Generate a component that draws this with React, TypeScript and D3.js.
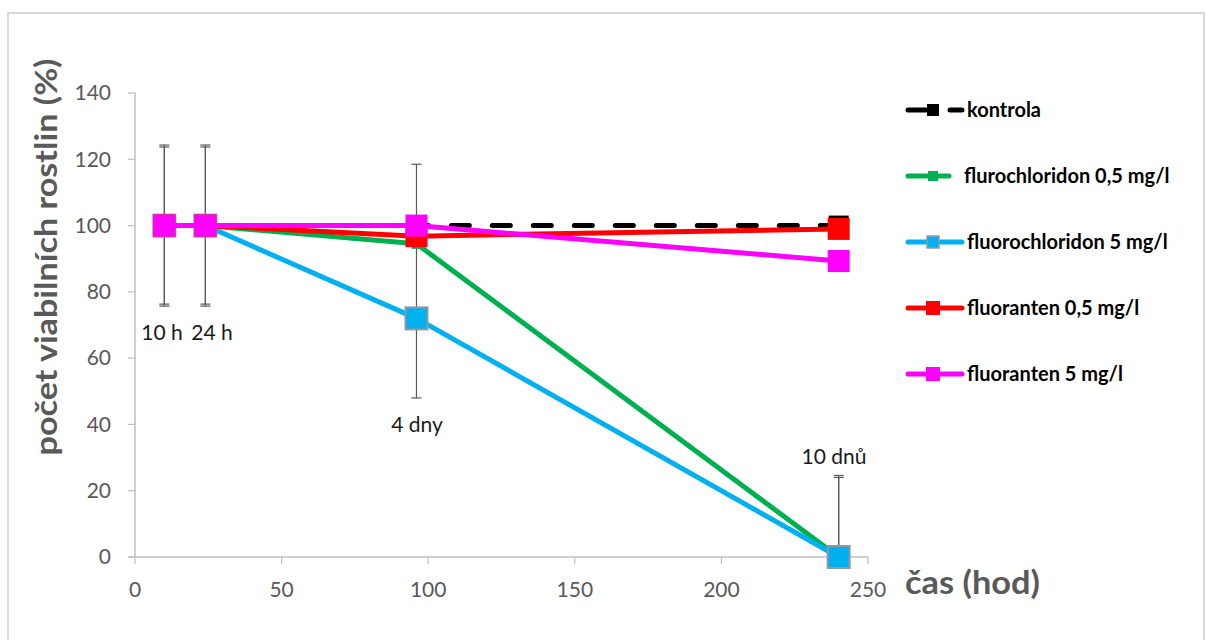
import React from "react";
import * as d3 from "d3";

const hours = [10, 24, 96, 240];
const timeLabels = ["10 h", "24 h", "4 dny", "10 dnů"];
const seriesNames = [
  "kontrola",
  "flurochloridon 0,5 mg/l",
  "fluorochloridon 5 mg/l",
  "fluoranten 0,5 mg/l",
  "fluoranten 5 mg/l",
];
const kontrola = [100, 100, 100, 100];
const flurochloridon05 = [100, 100, 94.5, 0];
const fluorochloridon5 = [100, 100, 72, 0];
const fluoranten05 = [100, 100, 96.8, 99];
const fluoranten5 = [100, 100, 100, 89.3];
// error bars: plus / minus
const errPlusKontrola = [0, 0, 0, 0];
const errMinusKontrola = [0, 0, 0, 0];
const errPlusFlurochloridon05 = [23.7, 23.7, 0, 24];
const errMinusFlurochloridon05 = [23.7, 23.7, 0, 24];
const errPlusFluorochloridon5 = [24.3, 24.3, 24, 24.6];
const errMinusFluorochloridon5 = [24.3, 24.3, 24, 24.6];
const errPlusFluoranten05 = [0, 0, 0, 0];
const errMinusFluoranten05 = [0, 0, 0, 0];
const errPlusFluoranten5 = [0, 0, 18.5, 0];
const errMinusFluoranten5 = [0, 0, 0, 0];
const xTicks = [0, 50, 100, 150, 200, 250];
const yTicks = [0, 20, 40, 60, 80, 100, 120, 140];

const FONT = "Lato, 'Open Sans', sans-serif";

type Series = {
  name: string;
  values: number[];
  errPlus: number[];
  errMinus: number[];
  color: string;
  marker: number;
  legendMarker: number;
  dashed?: boolean;
  stroke?: string;
};

const series: Series[] = [
  { name: seriesNames[0], values: kontrola, errPlus: errPlusKontrola, errMinus: errMinusKontrola, color: "#000000", marker: 20, legendMarker: 12, dashed: true },
  { name: seriesNames[1], values: flurochloridon05, errPlus: errPlusFlurochloridon05, errMinus: errMinusFlurochloridon05, color: "#00b050", marker: 10, legendMarker: 10 },
  { name: seriesNames[2], values: fluorochloridon5, errPlus: errPlusFluorochloridon5, errMinus: errMinusFluorochloridon5, color: "#00b0f0", marker: 22, legendMarker: 12, stroke: "#8c9aa6" },
  { name: seriesNames[3], values: fluoranten05, errPlus: errPlusFluoranten05, errMinus: errMinusFluoranten05, color: "#ff0000", marker: 22, legendMarker: 14 },
  { name: seriesNames[4], values: fluoranten5, errPlus: errPlusFluoranten5, errMinus: errMinusFluoranten5, color: "#ff00ff", marker: 22, legendMarker: 14 },
];

const labelPos = [
  [162, 333],
  [212, 333],
  [417, 425],
  [834, 457],
];

export default function App() {
  const x = d3.scaleLinear().domain([0, 250]).range([135, 868]);
  const y = d3.scaleLinear().domain([0, 140]).range([557, 93]);
  const line = d3
    .line<number>()
    .x((_, i) => x(hours[i]))
    .y((d) => y(d));

  const legendY = (i: number) => 110 + i * 66;

  return (
    <svg
      width={1206}
      height={640}
      style={{ position: "absolute", left: 0, top: 0, background: "#fff" }}
    >
      <rect x={0} y={0} width={1206} height={640} fill="#fff" />
      <rect x={8} y={13} width={1196} height={700} fill="#fff" stroke="#d9d9d9" strokeWidth={2} />

      {/* y axis */}
      <line x1={x(0)} x2={x(0)} y1={y(0)} y2={y(140)} stroke="#bfbfbf" strokeWidth={1.5} />
      {yTicks.map((t) => (
        <g key={"yt" + t}>
          <line x1={x(0) - 7} x2={x(0)} y1={y(t)} y2={y(t)} stroke="#bfbfbf" strokeWidth={1.2} />
          <text x={111} y={y(t)} dy="0.35em" textAnchor="end" fontFamily={FONT} fontSize={21} fill="#595959">
            {t}
          </text>
        </g>
      ))}
      {/* x axis */}
      <line x1={x(0) - 7} x2={x(250)} y1={y(0)} y2={y(0)} stroke="#bfbfbf" strokeWidth={1.5} />
      {xTicks.map((t) => (
        <g key={"xt" + t}>
          <line x1={x(t)} x2={x(t)} y1={y(0)} y2={y(0) + 7} stroke="#bfbfbf" strokeWidth={1.2} />
          <text x={x(t)} y={590} dy="0.35em" textAnchor="middle" fontFamily={FONT} fontSize={21} fill="#595959">
            {t}
          </text>
        </g>
      ))}

      {/* axis titles */}
      <text
        transform={`translate(57, 257) rotate(-90)`}
        textAnchor="middle"
        fontFamily={FONT}
        fontWeight="bold"
        fontSize={30}
        fill="#595959"
        textLength={397}
        lengthAdjust="spacingAndGlyphs"
      >
        počet viabilních rostlin (%)
      </text>
      <text
        x={905}
        y={583}
        dy="0.35em"
        fontFamily={FONT}
        fontWeight="bold"
        fontSize={32}
        fill="#595959"
        textLength={135}
        lengthAdjust="spacingAndGlyphs"
      >
        čas (hod)
      </text>

      {/* error bars */}
      {series.map((s) =>
        s.values.map((v, i) => {
          const ep = s.errPlus[i];
          const em = s.errMinus[i];
          if (!ep && !em) return null;
          const hi = y(v + ep);
          const lo = y(Math.max(0, v - em));
          const cx = x(hours[i]);
          return (
            <g key={s.name + "e" + i} stroke="#595959" strokeWidth={1.2}>
              <line x1={cx} x2={cx} y1={hi} y2={lo} />
              {ep > 0 && <line x1={cx - 5} x2={cx + 5} y1={hi} y2={hi} />}
              {em > 0 && v - em > 0 && <line x1={cx - 5} x2={cx + 5} y1={lo} y2={lo} />}
            </g>
          );
        })
      )}

      {/* series */}
      {series.map((s) => (
        <g key={s.name}>
          <path
            d={line(s.values) || ""}
            fill="none"
            stroke={s.color}
            strokeWidth={5}
            strokeLinecap={s.dashed ? "round" : "butt"}
            strokeDasharray={s.dashed ? "18 23" : undefined}
            strokeLinejoin="round"
          />
          {s.values.map((v, i) => (
            <rect
              key={i}
              x={x(hours[i]) - s.marker / 2}
              y={y(v) - s.marker / 2}
              width={s.marker}
              height={s.marker}
              fill={s.color}
              stroke={s.stroke || "none"}
              strokeWidth={s.stroke ? 2 : 0}
            />
          ))}
        </g>
      ))}

      {/* time labels */}
      {timeLabels.map((t, i) => (
        <text
          key={t}
          x={labelPos[i][0]}
          y={labelPos[i][1]}
          dy="0.35em"
          textAnchor="middle"
          fontFamily={FONT}
          fontSize={21}
          fill="#1a1a1a"
        >
          {t}
        </text>
      ))}

      {/* legend */}
      {series.map((s, i) => {
        const ly = legendY(i);
        const lineEnd = i === 1 ? 949 : 962;
        return (
          <g key={"lg" + s.name}>
            {s.dashed ? (
              <>
                <line x1={908} x2={926} y1={ly} y2={ly} stroke={s.color} strokeWidth={5} strokeLinecap="round" />
                <line x1={950} x2={962} y1={ly} y2={ly} stroke={s.color} strokeWidth={5} strokeLinecap="round" />
              </>
            ) : (
              <line x1={908} x2={lineEnd} y1={ly} y2={ly} stroke={s.color} strokeWidth={5} strokeLinecap="round" />
            )}
            <rect
              x={933 - s.legendMarker / 2}
              y={ly - s.legendMarker / 2}
              width={s.legendMarker}
              height={s.legendMarker}
              fill={s.color}
              stroke={s.stroke || "none"}
              strokeWidth={s.stroke ? 1.5 : 0}
            />
            <text
              x={i === 1 ? 964 : 967}
              y={ly}
              dy="0.35em"
              fontFamily={FONT}
              fontWeight="bold"
              fontSize={20}
              fill="#000"
            >
              {s.name}
            </text>
          </g>
        );
      })}
    </svg>
  );
}
